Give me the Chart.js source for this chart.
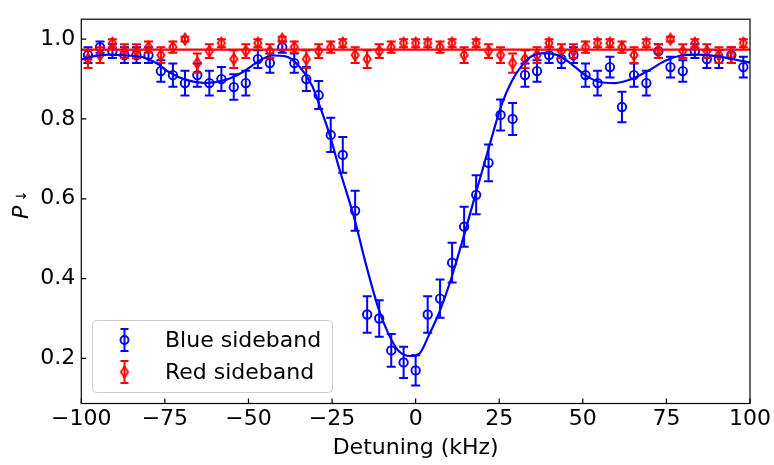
<!DOCTYPE html>
<html>
<head>
<meta charset="utf-8">
<script src="https://cdn.jsdelivr.net/npm/chart.js@4"></script>
<style>
  html, body { margin: 0; padding: 0; background: #fff; }
  #wrap { width: 774px; height: 465px; }
</style>
</head>
<body>
<div id="wrap"><canvas id="grafico" width="774" height="465"></canvas></div>
<script>
// Detuning of each measured point (kHz)
const detuning = [-98, -94.4, -90.7, -87.1, -83.5, -79.9, -76.2, -72.6, -69.0, -65.3,
  -61.7, -58.1, -54.4, -50.8, -47.2, -43.6, -39.9, -36.3, -32.7, -29.0,
  -25.4, -21.8, -18.1, -14.5, -10.9, -7.3, -3.6, 0, 3.6, 7.3,
  10.9, 14.5, 18.1, 21.8, 25.4, 29.0, 32.7, 36.3, 39.9, 43.6,
  47.2, 50.8, 54.4, 58.1, 61.7, 65.3, 69.0, 72.6, 76.2, 79.9,
  83.5, 87.1, 90.7, 94.4, 98];

// Blue sideband
const blueP = [0.96, 0.98, 0.97, 0.96, 0.96, 0.96, 0.92, 0.91, 0.89, 0.91,
  0.89, 0.90, 0.88, 0.89, 0.95, 0.94, 0.98, 0.94, 0.90, 0.86,
  0.76, 0.71, 0.57, 0.31, 0.30, 0.22, 0.19, 0.17, 0.31, 0.35,
  0.44, 0.53, 0.61, 0.69, 0.81, 0.80, 0.91, 0.92, 0.96, 0.95,
  0.96, 0.91, 0.89, 0.93, 0.83, 0.91, 0.89, 0.97, 0.93, 0.92,
  0.97, 0.95, 0.95, 0.96, 0.93];
const blueErr = [0.020, 0.014, 0.017, 0.020, 0.020, 0.020, 0.027, 0.029, 0.031, 0.029,
  0.031, 0.030, 0.032, 0.031, 0.022, 0.024, 0.014, 0.024, 0.030, 0.035,
  0.043, 0.045, 0.050, 0.046, 0.046, 0.041, 0.039, 0.038, 0.046, 0.048,
  0.050, 0.050, 0.049, 0.046, 0.039, 0.040, 0.029, 0.027, 0.020, 0.022,
  0.020, 0.029, 0.031, 0.026, 0.038, 0.029, 0.031, 0.017, 0.026, 0.027,
  0.017, 0.022, 0.022, 0.020, 0.026];

// Red sideband
const redP = [0.95, 0.96, 0.99, 0.97, 0.97, 0.98, 0.96, 0.98, 1.00, 0.94,
  0.97, 0.99, 0.95, 0.97, 0.99, 0.97, 1.00, 0.98, 0.95, 0.97,
  0.98, 0.99, 0.96, 0.95, 0.97, 0.98, 0.99, 0.99, 0.99, 0.98,
  0.99, 0.96, 0.99, 0.97, 0.96, 0.94, 0.95, 0.96, 0.99, 0.97,
  0.97, 0.98, 0.99, 0.99, 0.98, 0.96, 0.99, 0.97, 1.00, 0.97,
  0.99, 0.97, 0.96, 0.96, 0.99];
const redErr = [0.022, 0.020, 0.010, 0.017, 0.017, 0.014, 0.020, 0.014, 0.006, 0.024,
  0.017, 0.010, 0.022, 0.017, 0.010, 0.017, 0.006, 0.014, 0.022, 0.017,
  0.014, 0.010, 0.020, 0.022, 0.017, 0.014, 0.010, 0.010, 0.010, 0.014,
  0.010, 0.020, 0.010, 0.017, 0.020, 0.024, 0.022, 0.020, 0.010, 0.017,
  0.017, 0.014, 0.010, 0.010, 0.014, 0.020, 0.010, 0.017, 0.006, 0.017,
  0.010, 0.017, 0.020, 0.020, 0.010];

// Fit curves
const fitX = [-100, -96.6, -91.6, -86.7, -81.7, -77.7, -73.7, -68.7, -62.8, -56.8,
  -51.8, -46.9, -42.9, -38.9, -34.9, -31, -29, -25.7, -23, -18.3,
  -15, -11, -8, -5, -1.6, 1, 4, 7, 10.4, 13.8,
  17.8, 21.3, 25.8, 28.7, 31.7, 34.7, 38.7, 42.7, 46.7, 50.7,
  54.6, 59.6, 64.6, 69.6, 74.5, 79.5, 84.5, 90.4, 95.4, 100];
const fitBlue = [0.949, 0.957, 0.961, 0.959, 0.955, 0.941, 0.917, 0.898, 0.890, 0.898,
  0.917, 0.945, 0.959, 0.957, 0.933, 0.884, 0.840, 0.760, 0.680, 0.550,
  0.440, 0.322, 0.259, 0.218, 0.206, 0.211, 0.259, 0.314, 0.394, 0.489,
  0.608, 0.711, 0.838, 0.894, 0.933, 0.957, 0.965, 0.959, 0.937, 0.910,
  0.894, 0.890, 0.900, 0.921, 0.945, 0.959, 0.961, 0.957, 0.949, 0.941];
const fitRedX = [-100, 100];
const fitRed = [0.974, 0.974];

const xTicks = [-100, -75, -50, -25, 0, 25, 50, 75, 100];
const yTicks = [0.2, 0.4, 0.6, 0.8, 1.0];

const FONT = "'DejaVu Sans', sans-serif";
const AZUL = "#0000ff";
const ROJO = "#ff0000";

// thin diamond marker (matplotlib "d")
function hacerDiamante(color) {
  const c = document.createElement("canvas");
  c.width = 12; c.height = 14;
  const g = c.getContext("2d");
  g.strokeStyle = color;
  g.lineWidth = 1.9;
  g.beginPath();
  g.moveTo(6, 1.6); g.lineTo(9.6, 7); g.lineTo(6, 12.4); g.lineTo(2.4, 7);
  g.closePath();
  g.stroke();
  return c;
}
const diamante = hacerDiamante(ROJO);

function puntos(xs, ys) {
  return xs.map((x, i) => ({ x: x, y: ys[i] }));
}

// error bars drawn under each dataset's markers
const barrasError = {
  id: "barrasError",
  beforeDatasetDraw(chart, args) {
    const ds = chart.data.datasets[args.index];
    if (!ds.errores) return;
    const ctx = chart.ctx;
    const sx = chart.scales.x, sy = chart.scales.y;
    ctx.save();
    ctx.strokeStyle = ds.borderColor;
    ctx.lineWidth = 2;
    ds.data.forEach((p, i) => {
      const px = sx.getPixelForValue(p.x);
      const arriba = sy.getPixelForValue(p.y + ds.errores[i]);
      const abajo = sy.getPixelForValue(p.y - ds.errores[i]);
      ctx.beginPath();
      ctx.moveTo(px, arriba); ctx.lineTo(px, abajo);
      ctx.moveTo(px - 4.5, arriba); ctx.lineTo(px + 4.5, arriba);
      ctx.moveTo(px - 4.5, abajo); ctx.lineTo(px + 4.5, abajo);
      ctx.stroke();
    });
    ctx.restore();
  }
};

// frame, inward ticks, axis titles, legend
const marco = {
  id: "marco",
  afterDraw(chart) {
    const ctx = chart.ctx;
    const a = chart.chartArea;
    const sx = chart.scales.x, sy = chart.scales.y;
    ctx.save();
    ctx.strokeStyle = "#000";
    ctx.lineWidth = 1.2;
    ctx.strokeRect(a.left, a.top, a.right - a.left, a.bottom - a.top);
    ctx.beginPath();
    xTicks.forEach((v) => {
      const px = sx.getPixelForValue(v);
      ctx.moveTo(px, a.bottom); ctx.lineTo(px, a.bottom - 5);
    });
    yTicks.forEach((v) => {
      const py = sy.getPixelForValue(v);
      ctx.moveTo(a.left, py); ctx.lineTo(a.left + 5, py);
    });
    ctx.stroke();

    // x title
    ctx.fillStyle = "#000";
    ctx.font = "22px " + FONT;
    ctx.textAlign = "center";
    ctx.textBaseline = "alphabetic";
    ctx.fillText("Detuning (kHz)", (a.left + a.right) / 2, 454);

    // y title: P with a down-arrow subscript
    ctx.save();
    ctx.translate(27.5, 219);
    ctx.rotate(-Math.PI / 2);
    ctx.textAlign = "left";
    ctx.font = "italic 22px " + FONT;
    ctx.fillText("P", 0, 0);
    ctx.font = "14px " + FONT;
    ctx.textAlign = "center";
    ctx.textBaseline = "middle";
    ctx.fillText("\u2193", 23, -5);
    ctx.restore();

    // legend
    const bx = 92.5, by = 320.5, bw = 240, bh = 72;
    ctx.beginPath();
    ctx.roundRect(bx, by, bw, bh, 4);
    ctx.fillStyle = "rgba(255,255,255,0.8)";
    ctx.fill();
    ctx.strokeStyle = "#cccccc";
    ctx.lineWidth = 1;
    ctx.stroke();

    const filas = [
      { ds: chart.data.datasets[0], y: 340 },
      { ds: chart.data.datasets[1], y: 372 }
    ];
    filas.forEach((f, i) => {
      const mx = 124.5;
      ctx.strokeStyle = f.ds.borderColor;
      ctx.lineWidth = 2;
      ctx.beginPath();
      ctx.moveTo(mx, f.y - 11); ctx.lineTo(mx, f.y + 11);
      ctx.moveTo(mx - 4, f.y - 11); ctx.lineTo(mx + 4, f.y - 11);
      ctx.moveTo(mx - 4, f.y + 11); ctx.lineTo(mx + 4, f.y + 11);
      ctx.stroke();
      if (i === 0) {
        ctx.lineWidth = 1.9;
        ctx.beginPath();
        ctx.arc(mx, f.y, 4, 0, Math.PI * 2);
        ctx.stroke();
      } else {
        ctx.drawImage(diamante, mx - 6, f.y - 7);
      }
      ctx.fillStyle = "#000";
      ctx.font = "22px " + FONT;
      ctx.textAlign = "left";
      ctx.textBaseline = "alphabetic";
      ctx.fillText(f.ds.label, 165, f.y + 7);
    });
    ctx.restore();
  }
};

const ctx = document.getElementById("grafico").getContext("2d");
const grafico = new Chart(ctx, {
  type: "scatter",
  data: {
    datasets: [
      {
        label: "Blue sideband",
        data: puntos(detuning, blueP),
        errores: blueErr,
        borderColor: AZUL,
        backgroundColor: "rgba(0,0,0,0)",
        pointStyle: "circle",
        pointRadius: 4.2,
        borderWidth: 1.9,
        order: 4
      },
      {
        label: "Red sideband",
        data: puntos(detuning, redP),
        errores: redErr,
        borderColor: ROJO,
        backgroundColor: "rgba(0,0,0,0)",
        pointStyle: diamante,
        pointRadius: 6,
        order: 3
      },
      {
        label: "fit blue",
        data: puntos(fitX, fitBlue),
        showLine: true,
        borderColor: AZUL,
        borderWidth: 2.2,
        pointRadius: 0,
        cubicInterpolationMode: "monotone",
        order: 2
      },
      {
        label: "fit red",
        data: puntos(fitRedX, fitRed),
        showLine: true,
        borderColor: ROJO,
        borderWidth: 2.2,
        pointRadius: 0,
        order: 1
      }
    ]
  },
  options: {
    responsive: false,
    animation: false,
    devicePixelRatio: 1,
    layout: { padding: { top: 1.5, right: 23.3, left: 0, bottom: 0 } },
    plugins: {
      legend: { display: false },
      tooltip: { enabled: false }
    },
    scales: {
      x: {
        type: "linear",
        min: -100,
        max: 100,
        afterFit: (s) => { s.height = 61.5; },
        afterBuildTicks: (s) => { s.ticks = xTicks.map((v) => ({ value: v })); },
        grid: { display: false, drawTicks: false },
        border: { display: false },
        ticks: {
          color: "#000",
          font: { family: FONT, size: 22 },
          padding: 3,
          maxRotation: 0,
          callback: (v) => String(v).replace("-", "\u2212")
        }
      },
      y: {
        type: "linear",
        min: 0.087,
        max: 1.05,
        afterFit: (s) => { s.width = 81.3; },
        afterBuildTicks: (s) => { s.ticks = yTicks.map((v) => ({ value: v })); },
        grid: { display: false, drawTicks: false },
        border: { display: false },
        ticks: {
          color: "#000",
          font: { family: FONT, size: 22 },
          padding: 6,
          callback: (v) => v.toFixed(1)
        }
      }
    }
  },
  plugins: [barrasError, marco]
});
</script>
</body>
</html>
